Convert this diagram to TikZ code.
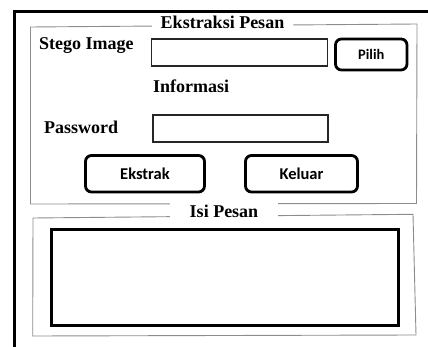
\documentclass[tikz,border=0pt]{standalone}
\usepackage{fontspec}
\setmainfont{Liberation Serif}
\newfontfamily\btnfont{Carlito}

\begin{document}
\begin{tikzpicture}[x=1pt,y=-1pt,
  lbl/.style={font=\fontsize{18}{20}\selectfont\bfseries, inner sep=0pt},
  grouptitle/.style={lbl, fill=white, inner xsep=0pt, inner ysep=2pt},
  groupframe/.style={draw=black!45, line width=0.9pt},
  field/.style={draw=black!85, line width=1.8pt, fill=white, inner sep=0pt},
  button/.style={draw, line width=2.8pt, rounded corners=6pt, inner sep=0pt,
    font=\btnfont\bfseries\fontsize{16.5}{18}\selectfont},
]
\useasboundingbox (0,0) rectangle (428,347);

% window frame (continues past the right and bottom edges)
\draw[line width=3.5pt] (14.5,347) -- (14.5,11.5) -- (428,11.5);

% group box: Ekstraksi Pesan
\draw[groupframe] (30.5,27) -- (417,24) -- (416.5,203.5) -- (30.5,204) -- cycle;
\node[grouptitle, anchor=base, minimum width=141] (ttl1) at (222.5,28.3) {Ekstraksi Pesan};

% group box: Isi Pesan
\draw[groupframe] (33,218) -- (413,214.3) -- (416,335) -- (32.7,336) -- cycle;
\node[grouptitle, anchor=base, minimum width=108] (ttl2) at (224,217.3) {Isi Pesan};

% labels
\node[lbl, anchor=base west] (lstego) at (39,50) {Stego Image};
\node[lbl, anchor=base west] (linfo) at (153,92.7) {Informasi};
\node[lbl, anchor=base west] (lpass) at (44,133.3) {Password};

% input fields
\node[field, minimum width=176, minimum height=27] (fstego) at (239.5,52.5) {};
\node[field, minimum width=175, minimum height=27] (fpass) at (240.5,128.5) {};

% buttons
\node[button, minimum width=71.5, minimum height=31,
  font=\btnfont\bfseries\fontsize{14.5}{16}\selectfont] (bpilih) at (371.25,54.5) {Pilih};
\node[button, minimum width=119, minimum height=36.5] (bekstrak) at (145,173.75) {Ekstrak};
\node[button, minimum width=112, minimum height=36.5] (bkeluar) at (301.5,173.75) {Keluar};

% message area
\node[draw, line width=3pt, minimum width=346.8, minimum height=95.5, inner sep=0pt]
  (msg) at (224.9,277.25) {};
\end{tikzpicture}
\end{document}
